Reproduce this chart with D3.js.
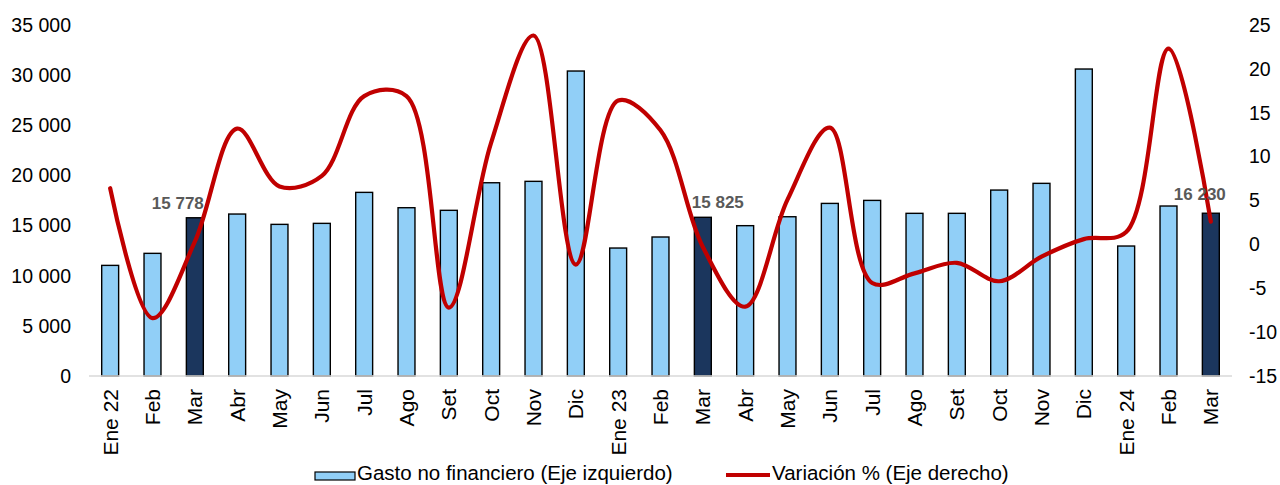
<!DOCTYPE html>
<html>
<head>
<meta charset="utf-8">
<script src="https://cdn.jsdelivr.net/npm/d3@7"></script>
<style>
  body { margin: 0; background: #fff; }
  svg { display: block; font-family: 'Liberation Sans', Arial, sans-serif; }
</style>
</head>
<body>
<svg width="1280" height="485"></svg>
<script>
// Months, Jan 2022 - Mar 2024
const months = ['Ene 22', 'Feb', 'Mar', 'Abr', 'May', 'Jun', 'Jul', 'Ago', 'Set', 'Oct', 'Nov', 'Dic',
  'Ene 23', 'Feb', 'Mar', 'Abr', 'May', 'Jun', 'Jul', 'Ago', 'Set', 'Oct', 'Nov', 'Dic',
  'Ene 24', 'Feb', 'Mar'];

// Gasto no financiero (left axis)
const gasto = [11030, 12230, 15778, 16150, 15120, 15220, 18310, 16780, 16520, 19270, 19410, 30410,
  12760, 13860, 15825, 14990, 15880, 17210, 17510, 16220, 16220, 18540, 19210, 30610,
  12960, 16950, 16230];

// Variación % (right axis)
const variacion = [6.4, -8.4, 0.3, 13.2, 6.6, 7.8, 16.9, 16.9, -7.2, 11.6, 23.8, -2.3,
  16.4, 13.0, -0.3, -7.1, 5.1, 13.3, -4.4, -3.3, -2.1, -4.2, -1.4, 0.6,
  1.4, 22.3, 2.6];

// bars highlighted in dark + labelled (every March)
const highlighted = [2, 14, 26];

const leftTicks = [0, 5000, 10000, 15000, 20000, 25000, 30000, 35000];
const rightTicks = [-15, -10, -5, 0, 5, 10, 15, 20, 25];

// label nudges (hand placed in the original)
const labelNudge = { 2: [-17, -9], 14: [15, -9], 26: [-11, -13] };

const svg = d3.select('svg');
const fmt = (v) => d3.format(',')(v).replace(/,/g, ' ');

const x = d3.scaleBand()
  .domain(d3.range(months.length))
  .range([89, 1232])
  .paddingInner(0.6)
  .paddingOuter(0.3);

const yL = d3.scaleLinear().domain([0, 35000]).range([376, 25]);
const yR = d3.scaleLinear().domain([-15, 25]).range([376, 25]);

// left axis labels
svg.append('g')
  .selectAll('text')
  .data(leftTicks)
  .join('text')
    .attr('x', 71)
    .attr('y', (d) => yL(d))
    .attr('dy', '0.35em')
    .attr('text-anchor', 'end')
    .style('font-size', '19.5px')
    .attr('fill', '#000')
    .text(fmt);

// right axis labels
svg.append('g')
  .selectAll('text')
  .data(rightTicks)
  .join('text')
    .attr('x', 1249)
    .attr('y', (d) => yR(d))
    .attr('dy', '0.35em')
    .style('font-size', '19.5px')
    .attr('fill', '#000')
    .text((d) => d);

// bars
svg.append('g')
  .selectAll('rect')
  .data(gasto)
  .join('rect')
    .attr('x', (d, i) => x(i))
    .attr('y', (d) => yL(d))
    .attr('width', x.bandwidth())
    .attr('height', (d) => yL(0) - yL(d))
    .attr('fill', (d, i) => highlighted.includes(i) ? '#1B365D' : '#91CFF7')
    .attr('stroke', '#000')
    .attr('stroke-width', 1.4);

// baseline
svg.append('line')
  .attr('x1', 89).attr('x2', 1232)
  .attr('y1', yL(0)).attr('y2', yL(0))
  .attr('stroke', '#D9D9D9')
  .attr('stroke-width', 1.5);

// category labels, rotated
svg.append('g')
  .selectAll('text')
  .data(months)
  .join('text')
    .attr('transform', (d, i) => `translate(${x(i) + x.bandwidth() / 2}, 389) rotate(-90)`)
    .attr('dy', '0.36em')
    .attr('text-anchor', 'end')
    .style('font-size', '21px')
    .attr('fill', '#000')
    .text((d) => d);

// variation line (smoothed like the spreadsheet)
const line = d3.line()
  .x((d, i) => x(i) + x.bandwidth() / 2)
  .y((d) => yR(d))
  .curve(d3.curveCatmullRom.alpha(0.5));

svg.append('path')
  .datum(variacion)
  .attr('fill', 'none')
  .attr('stroke', '#C00000')
  .attr('stroke-width', 4.2)
  .attr('stroke-linecap', 'round')
  .attr('stroke-linejoin', 'round')
  .attr('d', line);

// data labels on the highlighted bars
svg.append('g')
  .selectAll('text')
  .data(highlighted)
  .join('text')
    .attr('x', (i) => x(i) + x.bandwidth() / 2 + labelNudge[i][0])
    .attr('y', (i) => yL(gasto[i]) + labelNudge[i][1])
    .attr('text-anchor', 'middle')
    .style('font-size', '17px')
    .style('font-weight', 'bold')
    .attr('fill', '#595959')
    .text((i) => fmt(gasto[i]));

// legend
const legend = svg.append('g');
legend.append('rect')
  .attr('x', 315).attr('y', 472)
  .attr('width', 40).attr('height', 8)
  .attr('fill', '#91CFF7')
  .attr('stroke', '#000')
  .attr('stroke-width', 1.2);
legend.append('text')
  .attr('x', 357).attr('y', 480)
  .style('font-size', '20.5px')
  .text('Gasto no financiero (Eje izquierdo)');
legend.append('line')
  .attr('x1', 726).attr('x2', 770)
  .attr('y1', 475).attr('y2', 475)
  .attr('stroke', '#C00000')
  .attr('stroke-width', 4.2);
legend.append('text')
  .attr('x', 772).attr('y', 480)
  .style('font-size', '20.5px')
  .text('Variación % (Eje derecho)');
</script>
</body>
</html>
